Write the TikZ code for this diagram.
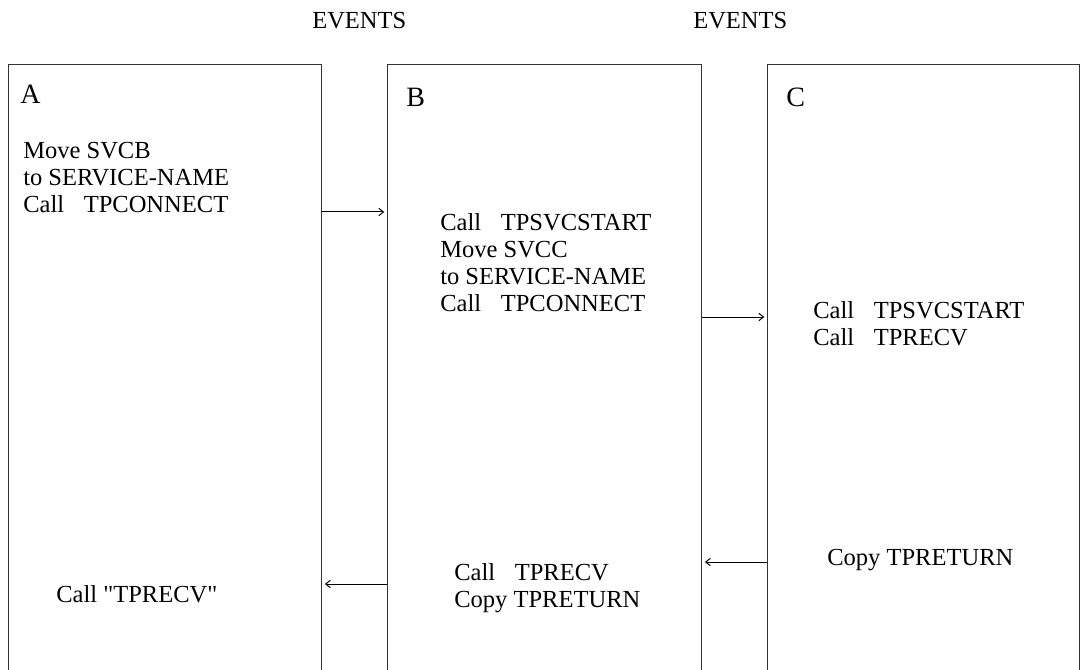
\documentclass[tikz,border=0pt]{standalone}
\usepackage{fontspec}
\setmainfont{Liberation Serif}
\usetikzlibrary{arrows.meta}
\newcommand\callgap{\hspace{0.8em}}
\tikzset{
  box/.style={draw=black!80, line width=0.9pt, rectangle, inner sep=0pt, anchor=north west, minimum height=490pt},
  txt/.style={inner sep=0pt, anchor=north west, align=left, font=\fontsize{18.4pt}{20.25pt}\selectfont},
  lbl/.style={inner sep=0pt, anchor=west, font=\fontsize{21pt}{24pt}\selectfont},
  evt/.style={inner sep=0pt, anchor=west, font=\fontsize{18.4pt}{20.25pt}\selectfont},
  arr/.style={draw=black, line width=0.75pt, -{Straight Barb[length=3.5pt,width=5.5pt]}, shorten >=2pt}
}
\begin{document}
\begin{tikzpicture}[x=0.75pt, y=-0.75pt]
\useasboundingbox (0,0) rectangle (1080,670);
\fill[white] (0,0) rectangle (1080,670);
\clip (0,0) rectangle (1080,670);
% boxes (open at the bottom, cut by the picture edge)
\node[box, minimum width=234.75pt] (A) at (8,64) {};
\node[box, minimum width=235.5pt] (B) at (387,64) {};
\node[box, minimum width=234pt] (C) at (767,64) {};
% headings
\node[evt] (ev1) at (312,21) {EVENTS};
\node[evt] (ev2) at (693,21) {EVENTS};
% box labels
\node[lbl] (la) at (20,94) {A};
\node[lbl] (lb) at (406,97) {B};
\node[lbl] (lc) at (786,97) {C};
% texts
\node[txt] (ta1) at (23,142) {Move SVCB\\to SERVICE-NAME\\Call\callgap TPCONNECT};
\node[txt] (tb1) at (440,213) {Call\callgap TPSVCSTART\\Move SVCC\\to SERVICE-NAME\\Call\callgap TPCONNECT};
\node[txt] (tc1) at (813,301) {Call\callgap TPSVCSTART\\Call\callgap TPRECV};
\node[txt] (tc2) at (827,549) {Copy TPRETURN};
\node[txt] (tb2) at (454,563) {Call\callgap TPRECV\\Copy TPRETURN};
\node[txt] (ta2) at (56,585) {Call \textquotedbl TPRECV\textquotedbl};
% connectors
\coordinate (r1) at (0,212);
\coordinate (r2) at (0,317);
\coordinate (r3) at (0,562);
\coordinate (r4) at (0,584);
\draw[arr] (A.east |- r1) -- (B.west |- r1);
\draw[arr] (B.east |- r2) -- (C.west |- r2);
\draw[arr] (C.west |- r3) -- (B.east |- r3);
\draw[arr] (B.west |- r4) -- (A.east |- r4);
\end{tikzpicture}
\end{document}
